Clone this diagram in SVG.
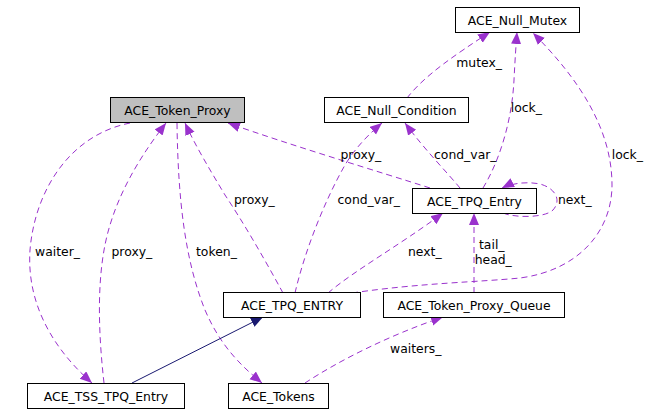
<svg xmlns="http://www.w3.org/2000/svg" width="667" height="413" viewBox="0 0 667 413">
<style>
  .n rect { fill: #ffffff; stroke: #000000; stroke-width: 1; }
  .n text { font-family: "DejaVu Sans", sans-serif; font-size: 12.4px; text-anchor: middle; fill: #000000; }
  .e { fill: none; stroke: #9a32cd; stroke-width: 1; stroke-dasharray: 6,4; marker-end: url(#ap); }
  .inh { fill: none; stroke: #191970; stroke-width: 1; marker-end: url(#an); }
  .l { font-family: "DejaVu Sans", sans-serif; font-size: 12.4px; fill: #000000; }
</style>
<defs>
  <marker id="ap" markerWidth="13" markerHeight="11" refX="12" refY="5" orient="auto" markerUnits="userSpaceOnUse">
    <path d="M0,0 L12,5 L0,10 z" fill="#9a32cd" stroke="none"/>
  </marker>
  <marker id="an" markerWidth="13" markerHeight="11" refX="12" refY="5" orient="auto" markerUnits="userSpaceOnUse">
    <path d="M0,0 L12,5 L0,10 z" fill="#191970" stroke="none"/>
  </marker>
</defs>
<rect width="667" height="413" fill="#ffffff"/>
<g id="connectors">
  <path class="e" d="M130,123 C70,135 35,190 30,250 C26,310 60,355 92,383"/>
  <text class="l" x="35" y="255.5">waiter_</text>
  <path class="e" d="M104,383 C98,330 96,270 110,225 C122,185 145,150 166,123"/>
  <text class="l" x="111.5" y="255.5">proxy_</text>
  <path class="e" d="M177,123 C178,200 185,260 205,310 C220,345 240,365 262,383"/>
  <text class="l" x="196" y="255.5">token_</text>
  <path class="e" d="M283,293 C265,260 245,225 225,195 C210,170 195,145 185,123"/>
  <text class="l" x="234" y="204">proxy_</text>
  <path class="e" d="M430,188 C380,172 290,145 228,123"/>
  <text class="l" x="340.5" y="159">proxy_</text>
  <path class="e" d="M295,293 C305,250 325,200 345,165 C355,148 370,133 382,123"/>
  <text class="l" x="337.5" y="204">cond_var_</text>
  <path class="e" d="M460,188 C445,170 425,150 405,123"/>
  <text class="l" x="434" y="159">cond_var_</text>
  <path class="e" d="M407,98 C425,75 455,55 490,32"/>
  <text class="l" x="456.3" y="67">mutex_</text>
  <path class="e" d="M483,188 C500,160 512,120 514,80 C515,60 516,45 517,32"/>
  <text class="l" x="510.7" y="112">lock_</text>
  <path class="e" d="M352,293 C420,283 480,282 520,278 C580,270 612,230 612,185 C612,130 580,80 533,33"/>
  <text class="l" x="611.7" y="159">lock_</text>
  <path class="e" d="M503,213 C515,218 545,218 553,210 C562,200 555,188 540,184 C525,181 510,184 502,188"/>
  <text class="l" x="558" y="204">next_</text>
  <path class="e" d="M328,293 C355,270 400,245 443,213"/>
  <text class="l" x="408" y="256">next_</text>
  <path class="e" d="M474,293 L474,213"/>
  <text class="l" x="479" y="248.5">tail_</text>
  <text class="l" x="474.7" y="263.5">head_</text>
  <path class="e" d="M305,383 C340,360 390,335 443,317"/>
  <text class="l" x="390" y="353">waiters_</text>
  <path class="inh" d="M132,383 L263,317"/>
</g>
<g id="ACE_Token_Proxy" class="n">
  <rect x="110.5" y="97.5" width="134" height="25" style="fill:#bfbfbf"/>
  <text x="177.5" y="115">ACE_Token_Proxy</text>
</g>
<g id="ACE_Null_Mutex" class="n">
  <rect x="455.5" y="7.5" width="124" height="25"/>
  <text x="517.5" y="24.5">ACE_Null_Mutex</text>
</g>
<g id="ACE_Null_Condition" class="n">
  <rect x="324.5" y="97.5" width="144" height="25"/>
  <text x="396.5" y="115">ACE_Null_Condition</text>
</g>
<g id="ACE_TPQ_Entry" class="n">
  <rect x="412.5" y="188.5" width="124" height="25"/>
  <text x="474.5" y="205.5">ACE_TPQ_Entry</text>
</g>
<g id="ACE_TPQ_ENTRY" class="n">
  <rect x="223.5" y="292.5" width="137" height="25"/>
  <text x="292" y="309.5">ACE_TPQ_ENTRY</text>
</g>
<g id="ACE_Token_Proxy_Queue" class="n">
  <rect x="383.5" y="292.5" width="181" height="25"/>
  <text x="474" y="309.5">ACE_Token_Proxy_Queue</text>
</g>
<g id="ACE_TSS_TPQ_Entry" class="n">
  <rect x="27.5" y="383.5" width="157" height="25"/>
  <text x="106" y="400.5">ACE_TSS_TPQ_Entry</text>
</g>
<g id="ACE_Tokens" class="n">
  <rect x="228.5" y="383.5" width="100" height="25"/>
  <text x="278.5" y="400.5">ACE_Tokens</text>
</g>
</svg>
